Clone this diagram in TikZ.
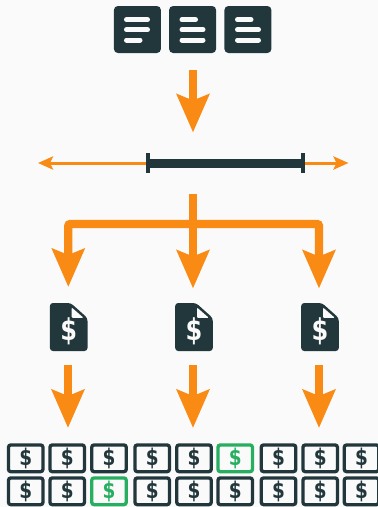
\documentclass[tikz,border=0pt]{standalone}
\usepackage{fontspec}
\setmainfont{DejaVu Sans}
\usetikzlibrary{arrows.meta}
\definecolor{ink}{HTML}{22373C}
\definecolor{flow}{HTML}{F98A14}
\definecolor{paper}{HTML}{FAFAFA}
\definecolor{okgreen}{HTML}{27AE60}
\newcommand{\cash}{\scalebox{.8}[1]{\$}}
\tikzset{
  iconbox/.style={fill=ink,rounded corners=4pt,minimum width=47pt,minimum height=47pt,inner sep=0pt,outer sep=0pt},
  txtbar/.style={draw=paper,line width=5pt,line cap=round},
  bigarrow/.style={draw=flow,line width=8.5pt,-{Stealth[length=38pt,width=32pt,inset=6pt]}},
  thinarrow/.style={draw=flow,line width=3pt,-{Stealth[length=15pt,width=13pt,inset=3pt]}},
  branch/.style={draw=flow,line width=8.3pt,rounded corners=2pt},
  rangebar/.style={draw=ink,line width=9pt},
  tick/.style={draw=ink,line width=4pt},
  bill/.style={draw=ink,line width=3.3pt,fill=paper,rounded corners=2.5pt,minimum width=34.6pt,minimum height=26.8pt,inner sep=0pt,text=ink,font=\bfseries\fontsize{23}{23}\selectfont},
  goodbill/.style={bill,draw=okgreen,text=okgreen},
  docsign/.style={text=paper,inner sep=0pt,font=\bfseries\fontsize{30}{30}\selectfont},
}
\begin{document}
\begin{tikzpicture}[x=1pt,y=-1pt]
\useasboundingbox[fill=paper] (0,0) rectangle (378,507);
% top icons
\node[iconbox] (ta) at (137.4,29.5) {};
\node[iconbox] (tb) at (192.6,29.5) {};
\node[iconbox] (tc) at (247.9,29.5) {};
\draw[txtbar] (126.5,19.7) -- (147.5,19.7) (126.5,29.8) -- (147.5,29.8) (126.5,40) -- (140,40);
\draw[txtbar] (182,19.7) -- (195.5,19.7) (182,29.8) -- (203,29.8) (182,40) -- (203,40);
\draw[txtbar] (237.5,19.7) -- (251,19.7) (237.5,29.8) -- (258.5,29.8) (237.5,40) -- (258.5,40);
% first arrow
\coordinate (a0s) at (193,70);
\coordinate (a0e) at (193,132.5);
\draw[bigarrow] (a0s) -- (a0e);
% range line
\coordinate (ll) at (38,163);
\coordinate (lr) at (148,163);
\coordinate (rl) at (303,163);
\coordinate (rr) at (348.5,163);
\draw[thinarrow] (lr) -- (ll);
\draw[thinarrow] (rl) -- (rr);
\draw[rangebar] (lr) -- (rl);
\draw[tick] (lr) ++(0,-10) -- ++(0,20);
\draw[tick] (rl) ++(0,-10) -- ++(0,20);
% branch
\coordinate (bs) at (193,193.5);
\coordinate (be) at (193,288.5);
\coordinate (bl) at (68.3,287);
\coordinate (br) at (319,288.5);
\draw[bigarrow] (bs) -- (be);
\draw[branch,-{Stealth[length=38pt,width=32pt,inset=6pt]}] (193,224) -| (bl);
\draw[branch,-{Stealth[length=38pt,width=32pt,inset=6pt]}] (193,224) -| (br);
% documents
\foreach \n/\cx in {da/68.7,db/194,dc/320}{
  \fill[ink,rounded corners=3pt,shift={(\cx,327)}] (-18.8,-24) -- (2,-24) -- (18.8,-9) -- (18.8,24) -- (-18.8,24) -- cycle;
  \fill[paper,rounded corners=1pt,shift={(\cx,327)}] (3,-19.5) -- (14.8,-9.2) -- (3,-9.2) -- cycle;
  \node[docsign] (\n) at (\cx,331) {\cash};
}
% lower arrows
\foreach \n/\cx in {a/68,b/193,c/319}{
  \coordinate (s\n) at (\cx,365);
  \coordinate (e\n) at (\cx,428);
  \draw[bigarrow] (s\n) -- (e\n);
}
% bills
\foreach \i/\cx in {1/25.7,2/67.2,3/109,4/152.2,5/194,6/235.2,7/278.5,8/320.2,9/361.5}{
  \ifnum\i=6
    \node[goodbill] (u\i) at (\cx,458.3) {\cash};
  \else
    \node[bill] (u\i) at (\cx,458.3) {\cash};
  \fi
  \ifnum\i=3
    \node[goodbill] (v\i) at (\cx,491.3) {\cash};
  \else
    \node[bill] (v\i) at (\cx,491.3) {\cash};
  \fi
}
\end{tikzpicture}
\end{document}
